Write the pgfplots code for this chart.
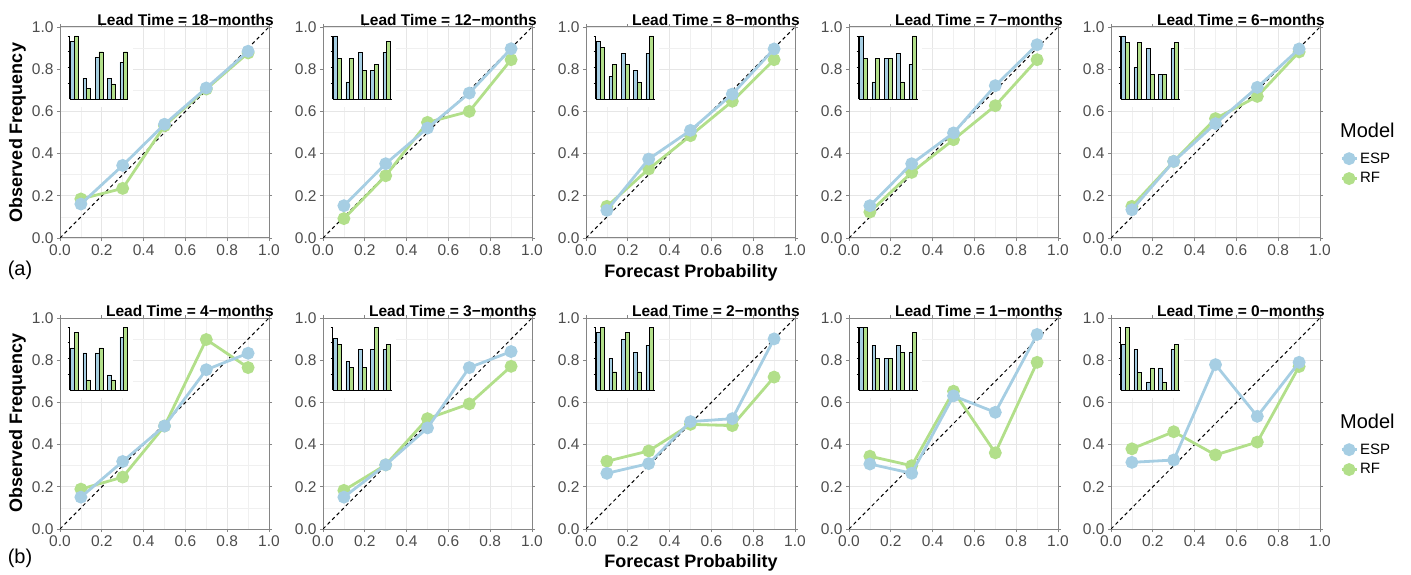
\documentclass[border=0pt]{standalone}
\usepackage{pgfplots}
\pgfplotsset{compat=1.18}
\usetikzlibrary{calc}
\usepackage{fontspec}
\setmainfont{Liberation Sans}
\definecolor{espc}{HTML}{A6CEE3}
\definecolor{rfc}{HTML}{B2DF8A}
\definecolor{gridmaj}{HTML}{E6E6E6}
\definecolor{gridmin}{HTML}{F0F0F0}
\definecolor{bord}{HTML}{858585}
\definecolor{ticklab}{HTML}{4D4D4D}

\pgfplotsset{
  legend image code/.code={\draw[mark repeat=2,mark phase=2,#1] plot coordinates {(0pt,0pt) (7.5pt,0pt) (15pt,0pt)};},
  ptstyle/.style={line width=2.8pt, mark=*, mark size=5pt, mark options={solid}},
  mainax/.style={
    scale only axis, width=209pt, height=211pt, anchor=south west,
    xmin=0, xmax=1, ymin=0, ymax=1,
    xtick={0,0.2,0.4,0.6,0.8,1}, ytick={0,0.2,0.4,0.6,0.8,1},
    minor xtick={0.1,0.3,0.5,0.7,0.9}, minor ytick={0.1,0.3,0.5,0.7,0.9},
    grid=both,
    major grid style={gridmaj, line width=0.9pt},
    minor grid style={gridmin, line width=0.7pt},
    axis line style={bord, line width=1pt},
    tick align=outside, major tick length=3pt, minor tick length=0pt,
    tick style={bord, line width=0.8pt},
    tick label style={font=\fontsize{15.5}{15.5}\selectfont, text=ticklab},
    /pgf/number format/fixed, /pgf/number format/fixed zerofill,
    /pgf/number format/precision=1, /pgf/number format/assume math mode=true,
    every axis title/.style={at={(1,1)}, anchor=east, xshift=5pt, yshift=7.5pt, inner sep=0pt,
      font=\bfseries\fontsize{15.5}{15.5}\selectfont},
    clip mode=individual,
    legend style={draw=none, fill=none, at={(1,0.329)}, anchor=west, xshift=20pt,
      font=\fontsize{15}{15}\selectfont, row sep=4pt, inner sep=0pt,
      /tikz/every even column/.append style={column sep=5pt}},
    legend cell align=left,
  },
  inset/.style={
    scale only axis, width=59pt, height=63pt, anchor=south west,
    xmin=0.6, xmax=5.4, ymin=0, ymax=1,
    ybar, bar width=3.8pt,
    axis x line=bottom, axis y line=left,
    axis line style={black, line width=0.8pt, -},
    xtick=\empty, ytick={0.25,0.5,0.75,1}, yticklabels={},
    tick align=outside, major tick length=2pt,
    tick style={black, line width=0.6pt},
    clip=false,
  },
}

% #1 name, #2 position, #3 title, #4 ESP, #5 RF, #6 inset ESP, #7 inset RF, #8 extra
\newcommand\panel[8]{%
\begin{axis}[mainax, name=#1, at={#2}, title={#3}]
  \fill[white] ([xshift=0.6pt]rel axis cs:0,0.62) rectangle ([yshift=-0.6pt]rel axis cs:0.35,1);
  \addplot[black, line width=1pt, dash pattern=on 3.5pt off 3pt, forget plot] coordinates {(0,0) (1,1)};
  \addplot[rfc, ptstyle, forget plot] coordinates {#5};
  \addplot[espc, ptstyle, forget plot] coordinates {#4};
  #8
\end{axis}
\begin{axis}[inset, at={($(#1.south west)+(9.5pt,139pt)$)}]
  \addplot[fill=espc, draw=black, line width=0.45pt, bar shift=-1.9pt] coordinates {#6};
  \addplot[fill=rfc, draw=black, line width=0.45pt, bar shift=1.9pt] coordinates {#7};
\end{axis}
}

\newcommand\legendbits[1]{%
  \addlegendimage{espc, ptstyle}\addlegendentry{ESP}
  \addlegendimage{rfc, ptstyle}\addlegendentry{RF}
  \node[anchor=west, inner sep=0pt, font=\fontsize{20}{20}\selectfont] at ([xshift=20pt]rel axis cs:1,#1) {Model};
}

\begin{document}
\begin{tikzpicture}[x=1pt,y=1pt]
\useasboundingbox (0,0) rectangle (1411,574);

% ---------------- row (a) ----------------
\panel{a1}{(60pt,336pt)}{Lead Time = 18−months}
  {(0.1,0.161) (0.3,0.344) (0.5,0.539) (0.7,0.711) (0.9,0.885)}
  {(0.1,0.185) (0.3,0.235) (0.5,0.532) (0.7,0.706) (0.9,0.877)}
  {(1,0.91) (2,0.33) (3,0.66) (4,0.33) (5,0.58)}
  {(1,1.00) (2,0.17) (3,0.75) (4,0.24) (5,0.75)}
  {}
\panel{a2}{(323pt,336pt)}{Lead Time = 12−months}
  {(0.1,0.153) (0.3,0.352) (0.5,0.521) (0.7,0.687) (0.9,0.897)}
  {(0.1,0.092) (0.3,0.295) (0.5,0.548) (0.7,0.600) (0.9,0.845)}
  {(1,1.00) (2,0.27) (3,0.74) (4,0.46) (5,0.74)}
  {(1,0.64) (2,0.64) (3,0.46) (4,0.55) (5,0.92)}
  {}
\panel{a3}{(586pt,336pt)}{Lead Time = 8−months}
  {(0.1,0.131) (0.3,0.374) (0.5,0.510) (0.7,0.682) (0.9,0.896)}
  {(0.1,0.150) (0.3,0.327) (0.5,0.485) (0.7,0.648) (0.9,0.845)}
  {(1,0.91) (2,0.36) (3,0.73) (4,0.46) (5,0.73)}
  {(1,0.82) (2,0.55) (3,0.55) (4,0.27) (5,1.00)}
  {}
\panel{a4}{(849pt,336pt)}{Lead Time = 7−months}
  {(0.1,0.153) (0.3,0.352) (0.5,0.498) (0.7,0.722) (0.9,0.916)}
  {(0.1,0.123) (0.3,0.311) (0.5,0.466) (0.7,0.627) (0.9,0.845)}
  {(1,1.00) (2,0.27) (3,0.64) (4,0.73) (5,0.55)}
  {(1,0.64) (2,0.64) (3,0.64) (4,0.27) (5,1.00)}
  {}
\panel{a5}{(1111pt,336pt)}{Lead Time = 6−months}
  {(0.1,0.134) (0.3,0.363) (0.5,0.542) (0.7,0.714) (0.9,0.896)}
  {(0.1,0.150) (0.3,0.363) (0.5,0.566) (0.7,0.671) (0.9,0.882)}
  {(1,1.00) (2,0.50) (3,0.80) (4,0.39) (5,0.80)}
  {(1,0.90) (2,0.90) (3,0.39) (4,0.39) (5,0.90)}
  {\legendbits{0.512}}

% ---------------- row (b) ----------------
\panel{b1}{(60pt,45pt)}{Lead Time = 4−months}
  {(0.1,0.151) (0.3,0.320) (0.5,0.488) (0.7,0.755) (0.9,0.833)}
  {(0.1,0.189) (0.3,0.246) (0.5,0.488) (0.7,0.898) (0.9,0.765)}
  {(1,0.67) (2,0.59) (3,0.59) (4,0.24) (5,0.84)}
  {(1,0.92) (2,0.16) (3,0.67) (4,0.16) (5,1.00)}
  {}
\panel{b2}{(323pt,45pt)}{Lead Time = 3−months}
  {(0.1,0.151) (0.3,0.304) (0.5,0.479) (0.7,0.765) (0.9,0.841)}
  {(0.1,0.183) (0.3,0.304) (0.5,0.523) (0.7,0.593) (0.9,0.771)}
  {(1,0.82) (2,0.45) (3,0.64) (4,0.64) (5,0.64)}
  {(1,0.73) (2,0.36) (3,0.36) (4,1.00) (5,0.73)}
  {}
\panel{b3}{(586pt,45pt)}{Lead Time = 2−months}
  {(0.1,0.264) (0.3,0.310) (0.5,0.509) (0.7,0.523) (0.9,0.901)}
  {(0.1,0.321) (0.3,0.370) (0.5,0.496) (0.7,0.490) (0.9,0.720)}
  {(1,0.91) (2,0.50) (3,0.80) (4,0.60) (5,0.71)}
  {(1,1.00) (2,0.29) (3,0.91) (4,0.29) (5,1.00)}
  {}
\panel{b4}{(849pt,45pt)}{Lead Time = 1−months}
  {(0.1,0.308) (0.3,0.264) (0.5,0.631) (0.7,0.553) (0.9,0.922)}
  {(0.1,0.345) (0.3,0.300) (0.5,0.653) (0.7,0.361) (0.9,0.790)}
  {(1,1.00) (2,0.71) (3,0.50) (4,0.71) (5,0.60)}
  {(1,1.00) (2,0.50) (3,0.50) (4,0.60) (5,0.91)}
  {}
\panel{b5}{(1111pt,45pt)}{Lead Time = 0−months}
  {(0.1,0.316) (0.3,0.327) (0.5,0.779) (0.7,0.534) (0.9,0.790)}
  {(0.1,0.380) (0.3,0.461) (0.5,0.351) (0.7,0.412) (0.9,0.770)}
  {(1,0.72) (2,0.64) (3,0.13) (4,0.35) (5,0.64)}
  {(1,1.00) (2,0.28) (3,0.35) (4,0.13) (5,0.72)}
  {\legendbits{0.512}}

% ---------------- shared labels ----------------
\node[rotate=90, font=\bfseries\fontsize{18}{18}\selectfont] at (17.5,441.5) {Observed Frequency};
\node[rotate=90, font=\bfseries\fontsize{18}{18}\selectfont] at (17.5,151) {Observed Frequency};
\node[font=\bfseries\fontsize{18}{18}\selectfont] at (691,301) {Forecast Probability};
\node[font=\bfseries\fontsize{18}{18}\selectfont] at (691,11) {Forecast Probability};
\node[font=\fontsize{20}{20}\selectfont] at (20,304) {(a)};
\node[font=\fontsize{20}{20}\selectfont] at (20,16) {(b)};
\end{tikzpicture}
\end{document}
